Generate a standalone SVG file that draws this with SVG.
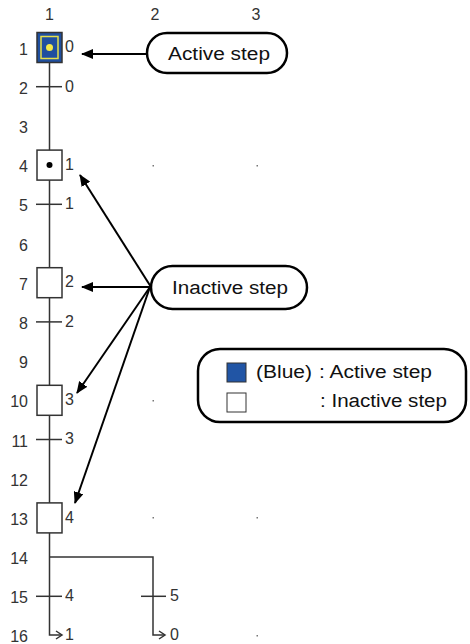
<svg xmlns="http://www.w3.org/2000/svg" width="470" height="644" viewBox="0 0 470 644">
<style>
.num{font-family:"Liberation Sans",Arial,sans-serif;font-size:16px;fill:#333}
.rl{text-anchor:end}
.ln{stroke:#333;stroke-width:1.5;fill:none}
.box{fill:#fff;stroke:#333;stroke-width:1.5}
.arr{stroke:#000;stroke-width:2;fill:none;marker-end:url(#ah)}
.bub{fill:#fff;stroke:#000;stroke-width:2.5}
.lbl{font-family:"Liberation Sans",Arial,sans-serif;font-size:18px;fill:#111}
.dot{fill:#777}
</style>
<defs>
<marker id="ah" viewBox="0 0 12 10" refX="11" refY="5" markerWidth="12" markerHeight="10" markerUnits="userSpaceOnUse" orient="auto">
<path d="M0,0 L12,5 L0,10 Z" fill="#000"/>
</marker>
</defs>

<g id="grid-labels">
<text class="num" x="49.5" y="20" text-anchor="middle">1</text>
<text class="num" x="155" y="20" text-anchor="middle">2</text>
<text class="num" x="256" y="20" text-anchor="middle">3</text>
<text class="num rl" x="28" y="54.5">1</text>
<text class="num rl" x="28" y="93.7">2</text>
<text class="num rl" x="28" y="132.9">3</text>
<text class="num rl" x="28" y="172.1">4</text>
<text class="num rl" x="28" y="211.3">5</text>
<text class="num rl" x="28" y="250.5">6</text>
<text class="num rl" x="28" y="289.7">7</text>
<text class="num rl" x="28" y="328.9">8</text>
<text class="num rl" x="28" y="368.1">9</text>
<text class="num rl" x="28" y="407.3">10</text>
<text class="num rl" x="28" y="446.5">11</text>
<text class="num rl" x="28" y="485.7">12</text>
<text class="num rl" x="28" y="524.9">13</text>
<text class="num rl" x="28" y="564.1">14</text>
<text class="num rl" x="28" y="603.3">15</text>
<text class="num rl" x="28" y="642">16</text>
</g>

<g id="grid-dots">
<rect class="dot" x="152.5" y="165" width="1.5" height="1.5"/>
<rect class="dot" x="256.5" y="165" width="1.5" height="1.5"/>
<rect class="dot" x="152.5" y="400" width="1.5" height="1.5"/>
<rect class="dot" x="152.5" y="517" width="1.5" height="1.5"/>
<rect class="dot" x="256.5" y="517" width="1.5" height="1.5"/>
<rect class="dot" x="256.5" y="635" width="1.5" height="1.5"/>
</g>

<g id="connectors">
<path class="ln" d="M49.5,62 V635 H62"/>
<path class="ln" d="M56,631 L62,635 L56,639"/>
<path class="ln" d="M49.5,557 H153 V635 H165"/>
<path class="ln" d="M159,631 L165,635 L159,639"/>
<line class="arr" x1="147" y1="54" x2="82" y2="54"/>
<line class="arr" x1="151" y1="287" x2="80" y2="175"/>
<line class="arr" x1="151" y1="287" x2="82" y2="287"/>
<line class="arr" x1="150" y1="287" x2="77" y2="393"/>
<line class="arr" x1="150" y1="287" x2="75" y2="503"/>
</g>

<g id="transitions">
<line class="ln" x1="36" y1="86.7" x2="62" y2="86.7"/>
<text class="num" x="65" y="91.5">0</text>
<line class="ln" x1="36" y1="204.3" x2="62" y2="204.3"/>
<text class="num" x="65" y="209">1</text>
<line class="ln" x1="36" y1="321.9" x2="62" y2="321.9"/>
<text class="num" x="65" y="326.5">2</text>
<line class="ln" x1="36" y1="439.5" x2="62" y2="439.5"/>
<text class="num" x="65" y="444">3</text>
<line class="ln" x1="36" y1="596.3" x2="62" y2="596.3"/>
<text class="num" x="65" y="601">4</text>
<line class="ln" x1="141" y1="596.3" x2="166" y2="596.3"/>
<text class="num" x="170" y="601">5</text>
<text class="num" x="65" y="640">1</text>
<text class="num" x="170" y="640">0</text>
</g>

<g id="step1">
<rect x="37" y="32.5" width="25" height="30" fill="#1f4f9f" stroke="#333" stroke-width="1.5"/>
<rect x="41" y="36.5" width="17" height="22" fill="none" stroke="#e6e04a" stroke-width="1.5"/>
<circle cx="49.5" cy="47.5" r="3.5" fill="#f2e84a"/>
<text class="num" x="65" y="52">0</text>
</g>
<g id="step4">
<rect class="box" x="37" y="150.1" width="25" height="30"/>
<circle cx="49.5" cy="165.1" r="3" fill="#000"/>
<text class="num" x="65" y="169.5">1</text>
</g>
<g id="step7">
<rect class="box" x="37" y="267.7" width="25" height="30"/>
<text class="num" x="65" y="287">2</text>
</g>
<g id="step10">
<rect class="box" x="37" y="385.3" width="25" height="30"/>
<text class="num" x="65" y="405">3</text>
</g>
<g id="step13">
<rect class="box" x="37" y="502.9" width="25" height="30"/>
<text class="num" x="65" y="522.5">4</text>
</g>

<g id="active-callout">
<rect class="bub" x="147" y="33" width="140" height="40" rx="20"/>
<text class="lbl" x="168" y="59.5" textLength="102" lengthAdjust="spacingAndGlyphs">Active step</text>
</g>
<g id="inactive-callout">
<rect class="bub" x="151" y="266" width="156" height="43" rx="21.5"/>
<text class="lbl" x="172" y="294" textLength="116" lengthAdjust="spacingAndGlyphs">Inactive step</text>
</g>

<g id="legend">
<rect class="bub" x="198" y="349" width="268" height="73" rx="22"/>
<rect x="227" y="363" width="19" height="19" fill="#2155a5" stroke="#333" stroke-width="1"/>
<rect x="227" y="393" width="19" height="19" fill="#fff" stroke="#333" stroke-width="1"/>
<text class="lbl" x="256" y="378" textLength="56" lengthAdjust="spacingAndGlyphs">(Blue)</text>
<text class="lbl" x="319" y="378" textLength="113" lengthAdjust="spacingAndGlyphs">: Active step</text>
<text class="lbl" x="320" y="407" textLength="127" lengthAdjust="spacingAndGlyphs">: Inactive step</text>
</g>
</svg>
